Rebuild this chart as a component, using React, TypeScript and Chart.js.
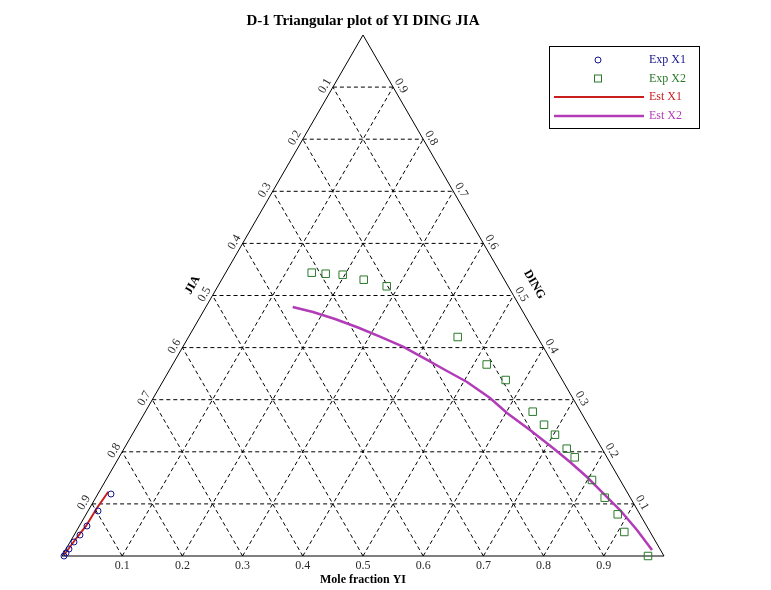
import React, { useEffect, useRef } from "react";
import { Chart, registerables } from "chart.js";

Chart.register(...registerables);

// ---- Data (positions read along the base = YI axis position, height = DING fraction) ----
const tickValues = [0.1, 0.2, 0.3, 0.4, 0.5, 0.6, 0.7, 0.8, 0.9];
const yiTickLabels = ["0.1", "0.2", "0.3", "0.4", "0.5", "0.6", "0.7", "0.8", "0.9"];
const dingTickLabels = ["0.1", "0.2", "0.3", "0.4", "0.5", "0.6", "0.7", "0.8", "0.9"];
const jiaTickLabels = ["0.9", "0.8", "0.7", "0.6", "0.5", "0.4", "0.3", "0.2", "0.1"];

const expX1Yi = [0.0814, 0.0598, 0.0415, 0.0299, 0.0199, 0.0116, 0.0066, 0.0033];
const expX1Ding = [0.119, 0.0864, 0.0576, 0.0403, 0.0269, 0.0134, 0.0058, 0.0];

const expX2Yi = [0.4148, 0.438, 0.4663, 0.5012, 0.5394, 0.6573, 0.7055, 0.737, 0.7819, 0.8007, 0.8189, 0.8384, 0.8517, 0.8804, 0.9015, 0.9231, 0.9341, 0.9734];
const expX2Ding = [0.5438, 0.5418, 0.5399, 0.5303, 0.5177, 0.4203, 0.3676, 0.3378, 0.277, 0.252, 0.2328, 0.206, 0.1894, 0.1459, 0.1119, 0.08, 0.0461, 0.0];

const estX1Yi = [0.0769, 0.0581, 0.0399, 0.0216, 0.0033];
const estX1Ding = [0.1234, 0.0921, 0.0576, 0.0307, 0.0019];

const estX2Yi = [0.3832, 0.4169, 0.4535, 0.4917, 0.5282, 0.5664, 0.5997, 0.6395, 0.6728, 0.711, 0.7392, 0.7774, 0.8156, 0.8439, 0.8721, 0.8987, 0.9269, 0.9551, 0.9801];
const estX2Ding = [0.4779, 0.4683, 0.4549, 0.4386, 0.4209, 0.4017, 0.3806, 0.3551, 0.334, 0.3033, 0.2745, 0.2418, 0.2073, 0.1804, 0.1516, 0.1209, 0.0883, 0.0499, 0.0115];

const seriesNames = ["Exp X1", "Exp X2", "Est X1", "Est X2"];
const titleText = "D-1 Triangular plot of YI DING JIA";

const S = Math.sqrt(3) / 2;
const toPts = (xs: number[], hs: number[]) => xs.map((x, i) => ({ x, y: hs[i] * S }));

const C_NAVY = "#14148c";
const C_GREEN = "#2a7a2a";
const C_RED = "#c81e1e";
const C_MAG = "#b23cb8";
const SERIF = '"Liberation Serif", "Times New Roman", serif';

const ternaryPlugin = {
  id: "ternary",
  beforeDatasetsDraw(chart: any) {
    const ctx = chart.ctx;
    const xs = chart.scales.x;
    const ys = chart.scales.y;
    const P = (X: number, H: number) => [xs.getPixelForValue(X), ys.getPixelForValue(H * S)];
    ctx.save();
    ctx.strokeStyle = "#000";
    ctx.lineWidth = 1;
    ctx.setLineDash([4, 3]);
    const seg = (a: number[], b: number[]) => {
      ctx.beginPath();
      ctx.moveTo(a[0], a[1]);
      ctx.lineTo(b[0], b[1]);
      ctx.stroke();
    };
    tickValues.forEach((t) => {
      seg(P(t / 2, t), P(1 - t / 2, t));
      seg(P(t, 0), P(t + (1 - t) / 2, 1 - t));
      seg(P(t, 0), P(t / 2, t));
    });
    ctx.setLineDash([]);
    const a = P(0, 0), b = P(1, 0), c = P(0.5, 1);
    ctx.beginPath();
    ctx.moveTo(a[0], a[1]);
    ctx.lineTo(b[0], b[1]);
    ctx.lineTo(c[0], c[1]);
    ctx.closePath();
    ctx.stroke();
    ctx.restore();
  },
  afterDraw(chart: any) {
    const ctx = chart.ctx;
    const xs = chart.scales.x;
    const ys = chart.scales.y;
    const P = (X: number, H: number) => [xs.getPixelForValue(X), ys.getPixelForValue(H * S)];
    const rotText = (txt: string, x: number, y: number, ang: number, font: string, color: string) => {
      ctx.save();
      ctx.translate(x, y);
      ctx.rotate(ang);
      ctx.font = font;
      ctx.fillStyle = color;
      ctx.textAlign = "center";
      ctx.textBaseline = "middle";
      ctx.fillText(txt, 0, 0);
      ctx.restore();
    };
    const tickFont = "12px " + SERIF;
    const tickColor = "#2a2a2a";
    // bottom labels
    tickValues.forEach((t, i) => {
      const p = P(t, 0);
      rotText(yiTickLabels[i], p[0], p[1] + 10, 0, tickFont, tickColor);
    });
    // left (JIA) labels
    tickValues.forEach((t, i) => {
      const p = P(t / 2, t);
      const x = p[0] - 0.866 * 7.5 - 0.5 * 3;
      const y = p[1] - 0.5 * 7.5 + 0.866 * 3;
      rotText(jiaTickLabels[i], x, y, -Math.PI / 3, tickFont, tickColor);
    });
    // right (DING) labels
    tickValues.forEach((t, i) => {
      const p = P(1 - t / 2, t);
      const x = p[0] + 0.866 * 7.5 + 0.5 * 3;
      const y = p[1] - 0.5 * 7.5 + 0.866 * 3;
      rotText(dingTickLabels[i], x, y, Math.PI / 3, tickFont, tickColor);
    });
    const boldFont = "bold 12px " + SERIF;
    const ml = P(0.25, 0.5);
    rotText("JIA", ml[0] - 0.866 * 23, ml[1] - 0.5 * 23 + 1, -Math.PI / 3, boldFont, "#000");
    const mr = P(0.75, 0.5);
    rotText("DING", mr[0] + 0.866 * 24, mr[1] - 0.5 * 24 + 1, Math.PI / 3, boldFont, "#000");
    const mb = P(0.5, 0);
    rotText("Mole fraction YI", mb[0], mb[1] + 24, 0, boldFont, "#000");
    const top = P(0.5, 1);
    rotText(titleText, top[0], top[1] - 14, 0, "bold 15px " + SERIF, "#000");

    // legend
    ctx.save();
    ctx.fillStyle = "#fff";
    ctx.fillRect(549.5, 46.5, 150, 82);
    ctx.strokeStyle = "#000";
    ctx.lineWidth = 1;
    ctx.strokeRect(549.5, 46.5, 150, 82);
    const rows = [60, 78.5, 97, 116];
    const colors = [C_NAVY, C_GREEN, C_RED, C_MAG];
    ctx.lineWidth = 1;
    ctx.strokeStyle = C_NAVY;
    ctx.beginPath();
    ctx.arc(598, rows[0], 3, 0, Math.PI * 2);
    ctx.stroke();
    ctx.strokeStyle = C_GREEN;
    ctx.strokeRect(594.5, rows[1] - 3.5, 7, 7);
    ctx.strokeStyle = C_RED;
    ctx.lineWidth = 2;
    ctx.beginPath();
    ctx.moveTo(554, rows[2]);
    ctx.lineTo(644, rows[2]);
    ctx.stroke();
    ctx.strokeStyle = C_MAG;
    ctx.lineWidth = 2.5;
    ctx.beginPath();
    ctx.moveTo(554, rows[3]);
    ctx.lineTo(644, rows[3]);
    ctx.stroke();
    ctx.font = "12px " + SERIF;
    ctx.textAlign = "left";
    ctx.textBaseline = "middle";
    seriesNames.forEach((n, i) => {
      ctx.fillStyle = colors[i];
      ctx.fillText(n, 649, rows[i]);
    });
    ctx.restore();
  },
};

export default function App() {
  const ref = useRef<HTMLCanvasElement | null>(null);
  useEffect(() => {
    if (!ref.current) return;
    const chart = new Chart(ref.current, {
      type: "scatter",
      data: {
        datasets: [
          {
            label: seriesNames[0],
            data: toPts(expX1Yi, expX1Ding),
            showLine: false,
            pointStyle: "circle",
            pointRadius: 3,
            pointBorderColor: C_NAVY,
            pointBackgroundColor: "rgba(0,0,0,0)",
            pointBorderWidth: 1,
            clip: false,
          } as any,
          {
            label: seriesNames[1],
            data: toPts(expX2Yi, expX2Ding),
            showLine: false,
            pointStyle: "rect",
            pointRadius: 5.3,
            pointBorderColor: C_GREEN,
            pointBackgroundColor: "rgba(0,0,0,0)",
            pointBorderWidth: 1,
            clip: false,
          },
          {
            label: seriesNames[2],
            data: toPts(estX1Yi, estX1Ding),
            showLine: true,
            pointRadius: 0,
            borderColor: C_RED,
            borderWidth: 2,
            tension: 0,
            clip: false,
          },
          {
            label: seriesNames[3],
            data: toPts(estX2Yi, estX2Ding),
            showLine: true,
            pointRadius: 0,
            borderColor: C_MAG,
            borderWidth: 2.5,
            tension: 0,
            clip: false,
          },
        ],
      },
      options: {
        responsive: false,
        animation: false,
        devicePixelRatio: 1,
        layout: { padding: { left: 62, right: 107, top: 35, bottom: 34 } },
        scales: {
          x: { type: "linear", min: 0, max: 1, display: false },
          y: { type: "linear", min: 0, max: S, display: false },
        },
        plugins: {
          legend: { display: false },
          title: { display: false },
          tooltip: { enabled: false },
        },
      },
      plugins: [ternaryPlugin],
    });
    return () => chart.destroy();
  }, []);
  return (
    <div style={{ position: "fixed", left: 0, top: 0, width: 771, height: 590, background: "#fff" }}>
      <canvas ref={ref} width={771} height={590} />
    </div>
  );
}
